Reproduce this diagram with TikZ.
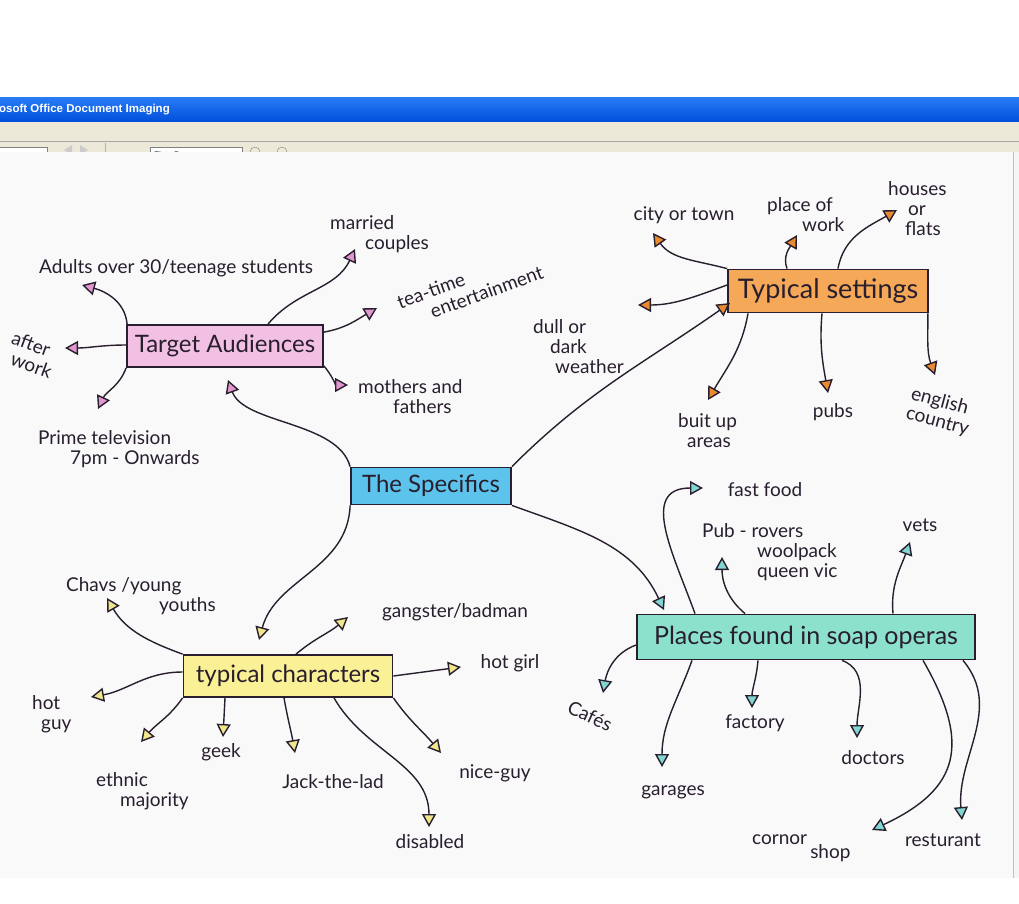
\documentclass[tikz,border=0pt]{standalone}
\usepackage{fontspec}
\setmainfont{Lato}
\newfontfamily\uifont{Liberation Sans}
\usetikzlibrary{arrows.meta}

\definecolor{ink}{RGB}{40,30,45}
\definecolor{paper}{RGB}{249,249,250}
\definecolor{titletop}{RGB}{40,125,245}
\definecolor{titlebot}{RGB}{0,78,220}
\definecolor{menubg}{RGB}{236,233,216}
\definecolor{pinkbox}{RGB}{242,192,226}
\definecolor{pinktri}{RGB}{226,150,208}
\definecolor{orangebox}{RGB}{245,168,88}
\definecolor{orangetri}{RGB}{234,138,48}
\definecolor{bluebox}{RGB}{92,196,236}
\definecolor{yellowbox}{RGB}{250,241,150}
\definecolor{yellowtri}{RGB}{240,230,140}
\definecolor{tealbox}{RGB}{140,225,205}
\definecolor{tealtri}{RGB}{130,214,210}

\begin{document}
\begin{tikzpicture}[x=1pt,y=1pt,
	box/.style={draw=ink,line width=1.8pt,inner sep=0pt,text=ink,font=\fontsize{24}{26}\selectfont},
	leaf/.style={text=ink,inner sep=0pt,align=left,font=\fontsize{19}{20}\selectfont},
	link/.style={draw=ink,line width=1.4pt,-{Triangle[length=13pt,width=14pt,fill=#1]}}]

	% window frame
	\useasboundingbox (0,0) rectangle (1019,-903);
	\fill[white] (0,0) rectangle (1019,-903);
	\shade[top color=titletop,bottom color=titlebot] (0,-97) rectangle (1019,-122);
	\node[anchor=west,inner sep=0pt,text=white,font=\uifont\bfseries\fontsize{11.5}{12}\selectfont] (title) at (-1,-110) {osoft Office Document Imaging};
	\fill[menubg] (0,-122) rectangle (1019,-152);
	\draw[gray!70] (0,-141) -- (1019,-141);
	\draw[gray!60] (105,-143) -- (105,-152);
	\filldraw[fill=white,draw=gray] (-1,-147) rectangle (47,-160);
	\fill[gray!40] (72,-145) -- (64,-150) -- (72,-155) -- cycle;
	\fill[gray!40] (80,-145) -- (88,-150) -- (80,-155) -- cycle;
	\filldraw[fill=white,draw=gray] (150,-147) rectangle (242,-160);
	\node[anchor=west,inner sep=0pt,font=\uifont\fontsize{8}{9}\selectfont] (zoombox) at (154,-155) {Fit to Page};
	\draw[gray] (255,-152) circle (5pt) (282,-152) circle (5pt);
	\fill[paper] (0,-152) rectangle (1013,-878);
	\fill[gray!8] (1013,-152) rectangle (1019,-878);
	\draw[gray!50] (1013,-152) -- (1013,-878);

	\begin{scope}[every node/.style={box}]
		\node[fill=pinkbox,minimum width=196pt,minimum height=42pt] (ta) at (225,-346) {Target Audiences};
		\node[fill=bluebox,minimum width=160pt,minimum height=37pt] (sp) at (431,-486) {The Specifics};
		\node[fill=orangebox,minimum width=200pt,minimum height=43pt,font=\fontsize{27}{28}\selectfont] (ts) at (828,-291) {Typical settings};
		\node[fill=yellowbox,minimum width=209pt,minimum height=42pt] (tc) at (288,-676) {typical characters};
		\node[fill=tealbox,minimum width=338pt,minimum height=45pt,font=\fontsize{25}{26}\selectfont] (pl) at (806,-637) {Places found in soap operas};
	\end{scope}

	\begin{scope}[every node/.style={leaf}]
		\node[anchor=west] (adults) at (39,-268) {Adults over 30/teenage students};
		\node[anchor=west] (married) at (330,-234) {married\\\hspace*{35pt}couples};
		\node[rotate=20] (tea) at (470,-287) {tea-time\\\hspace*{28pt}entertainment};
		\node[rotate=-20] (after) at (32,-355) {after\\\hspace*{6pt}work};
		\node[anchor=west] (prime) at (38,-449) {Prime television\\\hspace*{32pt}7pm - Onwards};
		\node[anchor=west] (mothers) at (358,-397) {mothers and\\\hspace*{35pt}fathers};
		\node (city) at (684,-215) {city or town};
		\node[anchor=west] (place) at (767,-215) {place of\\\hspace*{35pt}work};
		\node[anchor=west] (houses) at (888,-209) {houses\\\hspace*{20pt}or\\\hspace*{17pt}flats};
		\node[anchor=west] (weather) at (533,-347) {dull or\\\hspace*{17pt}dark\\\hspace*{22pt}weather};
		\node[anchor=west] (built) at (678,-431) {buit up\\\hspace*{9pt}areas};
		\node (pubs) at (833,-412) {pubs};
		\node[rotate=-15] (english) at (940,-412) {english\\country};
		\node (fast) at (765,-490) {fast food};
		\node[anchor=west] (pub) at (702,-552) {Pub - rovers\\\hspace*{55pt}woolpack\\\hspace*{55pt}queen vic};
		\node (vets) at (920,-525) {vets};
		\node[rotate=-25] (cafes) at (590,-716) {Cafés};
		\node (factory) at (755,-723) {factory};
		\node (garages) at (673,-792) {garages};
		\node (doctors) at (873,-758) {doctors};
		\node[anchor=west] (shop) at (752,-848) {cornor\,\raisebox{-14pt}{shop}};
		\node (rest) at (943,-840) {resturant};
		\node[anchor=west] (chavs) at (66,-596) {Chavs /young\\\hspace*{93pt}youths};
		\node (gang) at (455,-612) {gangster/badman};
		\node (hotgirl) at (510,-663) {hot girl};
		\node[anchor=west] (hotguy) at (32,-714) {hot\\\hspace*{9pt}guy};
		\node[anchor=west] (ethnic) at (96,-791) {ethnic\\\hspace*{24pt}majority};
		\node (geek) at (221,-752) {geek};
		\node (jack) at (333,-782) {Jack-the-lad};
		\node (nice) at (495,-773) {nice-guy};
		\node (disabled) at (430,-842) {disabled};
	\end{scope}

	\coordinate (toAdults) at (82,-285);
	\coordinate (toAfter) at (65,-348);
	\coordinate (toPrime) at (98,-409);
	\coordinate (toMarried) at (355,-249);
	\coordinate (toTea) at (377,-308);
	\coordinate (toMothers) at (348,-385);
	\coordinate (toTA) at (228,-380);
	\coordinate (toTS) at (730,-303);
	\coordinate (toTC) at (259,-640);
	\coordinate (toPL) at (664,-610);
	\coordinate (toCity) at (653,-233);
	\coordinate (toPlace) at (797,-235);
	\coordinate (toHouses) at (897,-210);
	\coordinate (toWeather) at (638,-305);
	\coordinate (toBuilt) at (708,-400);
	\coordinate (toPubs) at (828,-393);
	\coordinate (toEnglish) at (935,-375);
	\coordinate (toFast) at (703,-488);
	\coordinate (toPub) at (722,-557);
	\coordinate (toVets) at (910,-542);
	\coordinate (toCafes) at (603,-693);
	\coordinate (toGarages) at (662,-767);
	\coordinate (toFactory) at (752,-708);
	\coordinate (toDoctors) at (857,-738);
	\coordinate (toShop) at (872,-830);
	\coordinate (toRest) at (962,-820);
	\coordinate (toChavs) at (107,-598);
	\coordinate (toGang) at (348,-617);
	\coordinate (toHotGirl) at (461,-667);
	\coordinate (toHotGuy) at (91,-697);
	\coordinate (toEthnic) at (141,-742);
	\coordinate (toGeek) at (223,-737);
	\coordinate (toJack) at (295,-753);
	\coordinate (toDisabled) at (429,-827);
	\coordinate (toNice) at (441,-753);

	\begin{scope}[every edge/.style={draw}]
		\path ([xshift=1pt]ta.north west) edge[link=pinktri,out=95,in=-15] (toAdults);
		\path ([yshift=1pt]ta.west) edge[link=pinktri,out=180,in=0] (toAfter);
		\path (ta.south west) edge[link=pinktri,out=-110,in=65] (toPrime);
		\path ([xshift=43pt]ta.north) edge[link=pinktri,out=50,in=-115] (toMarried);
		\path ([yshift=-8pt]ta.north east) edge[link=pinktri,out=10,in=-150] (toTea);
		\path ([yshift=2pt]ta.south east) edge[link=pinktri,out=-50,in=180] (toMothers);

		\path (sp.north west) edge[link=pinktri,out=105,in=-70,looseness=0.8] (toTA);
		\path (sp.north east) edge[link=orangetri,out=45,in=-145] (toTS);
		\path (sp.south west) edge[link=yellowtri,out=-92,in=75] (toTC);
		\path (sp.south east) edge[link=tealtri,out=-20,in=115] (toPL);

		\path (ts.north west) edge[link=orangetri,out=165,in=-55] (toCity);
		\path ([xshift=-41pt]ts.north) edge[link=orangetri,out=110,in=-120] (toPlace);
		\path ([xshift=10pt]ts.north) edge[link=orangetri,out=80,in=-150] (toHouses);
		\path ([yshift=6pt]ts.west) edge[link=orangetri,out=200,in=0] (toWeather);
		\path ([xshift=-80pt]ts.south) edge[link=orangetri,out=-100,in=60] (toBuilt);
		\path ([xshift=-6pt]ts.south) edge[link=orangetri,out=-95,in=100] (toPubs);
		\path ([xshift=-1pt]ts.south east) edge[link=orangetri,out=-90,in=110] (toEnglish);

		\path ([xshift=-111pt]pl.north) edge[link=tealtri,out=110,in=180,looseness=1.3] (toFast);
		\path ([xshift=-61pt]pl.north) edge[link=tealtri,out=140,in=-90] (toPub);
		\path ([xshift=87pt]pl.north) edge[link=tealtri,out=95,in=-110] (toVets);
		\path ([yshift=-8pt]pl.west) edge[link=tealtri,out=200,in=80] (toCafes);
		\path ([xshift=-114pt]pl.south) edge[link=tealtri,out=-110,in=90] (toGarages);
		\path ([xshift=-48pt]pl.south) edge[link=tealtri,out=-95,in=90] (toFactory);
		\path ([xshift=36pt]pl.south) edge[link=tealtri,out=-20,in=90] (toDoctors);
		\path ([xshift=117pt]pl.south) edge[link=tealtri,out=-60,in=25,looseness=1.4] (toShop);
		\path ([xshift=157pt]pl.south) edge[link=tealtri,out=-50,in=95] (toRest);

		\path (tc.north west) edge[link=yellowtri,out=160,in=-60] (toChavs);
		\path ([xshift=8pt]tc.north) edge[link=yellowtri,out=40,in=-140] (toGang);
		\path (tc.east) edge[link=yellowtri] (toHotGirl);
		\path ([yshift=4pt]tc.west) edge[link=yellowtri,out=180,in=10] (toHotGuy);
		\path (tc.south west) edge[link=yellowtri,out=-125,in=50] (toEthnic);
		\path ([xshift=-63pt]tc.south) edge[link=yellowtri] (toGeek);
		\path ([xshift=-4pt]tc.south) edge[link=yellowtri,out=-80,in=100] (toJack);
		\path ([xshift=46pt]tc.south) edge[link=yellowtri,out=-60,in=90] (toDisabled);
		\path (tc.south east) edge[link=yellowtri,out=-55,in=130] (toNice);
	\end{scope}
\end{tikzpicture}
\end{document}
